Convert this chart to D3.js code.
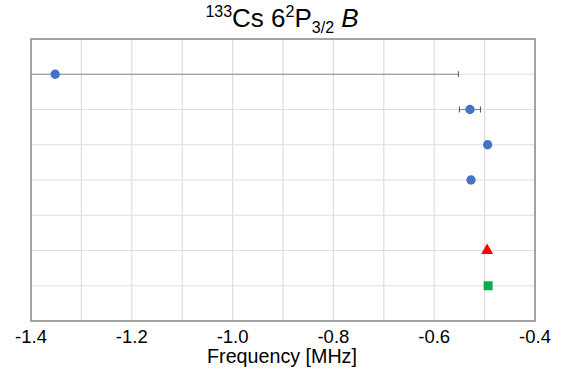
<!DOCTYPE html>
<html lang="en">
<head>
    <meta charset="UTF-8">
    <title>133Cs 62P3/2 B</title>
    <script src="https://cdnjs.cloudflare.com/ajax/libs/d3/7.8.5/d3.min.js"></script>
    <style>
        body {
            margin: 0;
            background: white;
            font-family: 'Liberation Sans', Arial, sans-serif;
        }
    </style>
</head>
<body>
    <div id="chart"></div>

    <script>
        // rows counted from the top of the plot
        const rows = [1, 2, 3, 4, 6, 7];
        const values = [-1.352, -0.529, -0.494, -0.527, -0.495, -0.493];
        const errors = [0.80, 0.021, 0, 0, 0, 0];
        const markers = ["circle", "circle", "circle", "circle", "triangle", "square"];
        const colors = ["#4472C4", "#4472C4", "#4472C4", "#4472C4", "#FF0000", "#00B050"];
        const xTicks = [-1.4, -1.2, -1.0, -0.8, -0.6, -0.4];

        const width = 569, height = 375;
        const margin = { top: 39, right: 34, bottom: 54, left: 31 };

        const svg = d3.select("#chart")
            .append("svg")
            .attr("width", width)
            .attr("height", height);

        const x = d3.scaleLinear()
            .domain([-1.4, -0.4])
            .range([margin.left, width - margin.right]);

        const y = d3.scaleLinear()
            .domain([0, 8])
            .range([margin.top, height - margin.bottom]);

        svg.append("defs").append("clipPath")
            .attr("id", "clip")
            .append("rect")
            .attr("x", margin.left)
            .attr("y", margin.top)
            .attr("width", x.range()[1] - margin.left)
            .attr("height", y.range()[1] - margin.top);

        // grid
        svg.append("g")
            .selectAll("line")
            .data(d3.range(-1.3, -0.41, 0.1))
            .join("line")
            .attr("x1", d => x(d)).attr("x2", d => x(d))
            .attr("y1", y(0)).attr("y2", y(8))
            .attr("stroke", "#dedede")
            .attr("stroke-width", 1.2);

        svg.append("g")
            .selectAll("line")
            .data(d3.range(1, 8))
            .join("line")
            .attr("x1", x(-1.4)).attr("x2", x(-0.4))
            .attr("y1", d => y(d)).attr("y2", d => y(d))
            .attr("stroke", "#dedede")
            .attr("stroke-width", 1.2);

        // frame
        svg.append("rect")
            .attr("x", x(-1.4))
            .attr("y", y(0))
            .attr("width", x(-0.4) - x(-1.4))
            .attr("height", y(8) - y(0))
            .attr("fill", "none")
            .attr("stroke", "#858585")
            .attr("stroke-width", 1.5);

        const pts = rows.map((r, i) => ({
            row: r, value: values[i], err: errors[i], marker: markers[i], color: colors[i]
        }));

        // error bars
        const eb = svg.append("g").attr("clip-path", "url(#clip)");
        pts.filter(d => d.err > 0).forEach(d => {
            eb.append("line")
                .attr("x1", x(d.value - d.err)).attr("x2", x(d.value + d.err))
                .attr("y1", y(d.row)).attr("y2", y(d.row))
                .attr("stroke", "#8c8c8c")
                .attr("stroke-width", 1.2);
            [d.value - d.err, d.value + d.err].forEach(v => {
                eb.append("line")
                    .attr("x1", x(v)).attr("x2", x(v))
                    .attr("y1", y(d.row) - 3).attr("y2", y(d.row) + 3)
                    .attr("stroke", "#555")
                    .attr("stroke-width", 1);
            });
        });

        // markers
        const symbolType = { circle: d3.symbolCircle, triangle: d3.symbolTriangle, square: d3.symbolSquare };
        const symbolSize = { circle: 68, triangle: 62, square: 81 };
        svg.append("g")
            .selectAll("path")
            .data(pts)
            .join("path")
            .attr("transform", d => `translate(${x(d.value)},${y(d.row)})`)
            .attr("d", d => d3.symbol(symbolType[d.marker], symbolSize[d.marker])())
            .attr("fill", d => d.color);

        // x axis labels
        svg.append("g")
            .selectAll("text")
            .data(xTicks)
            .join("text")
            .attr("x", d => x(d))
            .attr("y", 343)
            .attr("text-anchor", "middle")
            .attr("font-size", "18.5px")
            .attr("fill", "#000")
            .text(d => d3.format(".1f")(d).replace("−", "-"));

        svg.append("text")
            .attr("x", 282)
            .attr("y", 363)
            .attr("text-anchor", "middle")
            .attr("font-size", "19.7px")
            .text("Frequency [MHz]");

        // title
        const title = svg.append("text")
            .attr("x", 282)
            .attr("y", 27)
            .attr("text-anchor", "middle")
            .attr("font-size", "26px");
        title.append("tspan").attr("font-size", "16px").attr("dy", -10).text("133");
        title.append("tspan").attr("dy", 10).text("Cs 6");
        title.append("tspan").attr("font-size", "16px").attr("dy", -10).text("2");
        title.append("tspan").attr("dy", 10).text("P");
        title.append("tspan").attr("font-size", "16px").attr("dy", 6).text("3/2");
        title.append("tspan").attr("dy", -6).text(" ");
        title.append("tspan").attr("font-style", "italic").text("B");
    </script>
</body>
</html>
